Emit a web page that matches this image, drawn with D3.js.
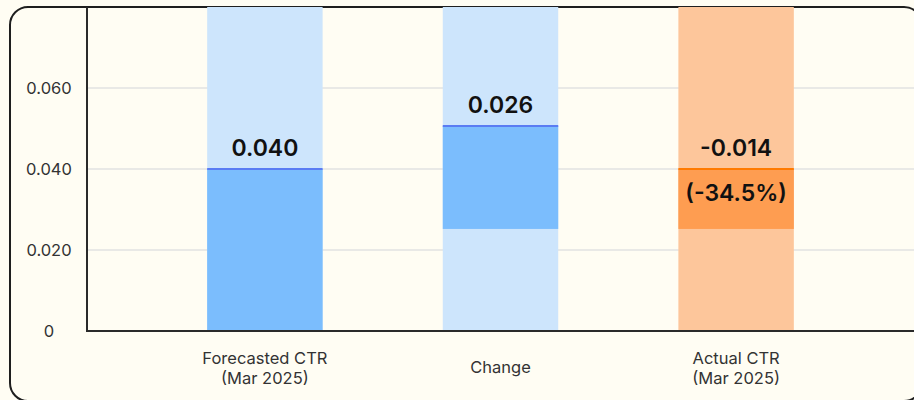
<!DOCTYPE html>
<html><head><meta charset="utf-8">
<script src="https://cdn.jsdelivr.net/npm/d3@7"></script>
<style>
html,body{margin:0;padding:0;background:#fffdf3;}
svg{display:block;font-family:Inter, "Noto Sans", sans-serif;}
</style></head>
<body>
<svg id="chart" width="914" height="400"></svg>
<script>
const categories = ["Forecasted CTR\n(Mar 2025)", "Change", "Actual CTR\n(Mar 2025)"];
const barBase = [0, 0.0252, 0.0252];
const barTop = [0.040, 0.0506, 0.040];
const valueLabels = ["0.040", "0.026", "-0.014"];
const subLabels = ["", "", "(-34.5%)"];
const kinds = ["blue", "blue", "orange"];
const yTicks = [0, 0.02, 0.04, 0.06];
const yTickLabels = ["0", "0.020", "0.040", "0.060"];
const yMax = 0.08;

const palette = {
  blue: {bg: "#cde5fc", bar: "#7bbdfd", line: "#5a7cf3"},
  orange: {bg: "#fdc69b", bar: "#fe9d51", line: "#ff7a00"}
};

const svg = d3.select("#chart");
const mLeft = 87, mRight = 914, mTop = 7, mBottom = 331;

svg.append("rect").attr("x", 10).attr("y", 7).attr("width", 912).attr("height", 394)
  .attr("rx", 18).attr("fill", "#fffdf3").attr("stroke", "#1e1e1e").attr("stroke-width", 2);

const x = d3.scaleBand().domain(categories).range([mLeft, mRight]).paddingInner(0.51).paddingOuter(0.51);
const y = d3.scaleLinear().domain([0, yMax]).range([mBottom, mTop]);

// grid
svg.append("g").selectAll("line").data(yTicks.filter(d => d > 0)).join("line")
  .attr("x1", mLeft).attr("x2", mRight).attr("y1", d => y(d)).attr("y2", d => y(d))
  .attr("stroke", "#e2e2e2").attr("stroke-width", 1.5);

// background columns
svg.append("g").selectAll("rect").data(categories).join("rect")
  .attr("x", d => x(d)).attr("width", x.bandwidth())
  .attr("y", y(yMax)).attr("height", y(0) - y(yMax))
  .attr("fill", (d, i) => palette[kinds[i]].bg);

// bars
svg.append("g").selectAll("rect").data(categories).join("rect")
  .attr("x", d => x(d)).attr("width", x.bandwidth())
  .attr("y", (d, i) => y(barTop[i])).attr("height", (d, i) => y(barBase[i]) - y(barTop[i]))
  .attr("fill", (d, i) => palette[kinds[i]].bar);

// top lines
svg.append("g").selectAll("line").data(categories).join("line")
  .attr("x1", d => x(d)).attr("x2", d => x(d) + x.bandwidth())
  .attr("y1", (d, i) => y(barTop[i])).attr("y2", (d, i) => y(barTop[i]))
  .attr("stroke", (d, i) => palette[kinds[i]].line).attr("stroke-width", 2);

// value labels
svg.append("g").selectAll("text").data(categories).join("text")
  .attr("x", d => x(d) + x.bandwidth() / 2)
  .attr("y", (d, i) => y(barTop[i]) - 13)
  .attr("text-anchor", "middle").attr("font-size", 23).attr("font-weight", 600)
  .attr("fill", "#111").text((d, i) => valueLabels[i]);

svg.append("g").selectAll("text").data(categories).join("text")
  .attr("x", d => x(d) + x.bandwidth() / 2)
  .attr("y", (d, i) => y(barTop[i]) + 32)
  .attr("text-anchor", "middle").attr("font-size", 23).attr("font-weight", 600)
  .attr("fill", "#111").text((d, i) => subLabels[i]);

// axes
const yAxis = d3.axisLeft(y).tickValues(yTicks).tickFormat((d, i) => yTickLabels[i]).tickSize(0);
const gy = svg.append("g").attr("transform", `translate(${mLeft},0)`).call(yAxis);
gy.select(".domain").remove();
gy.selectAll("text").attr("x", -38).attr("text-anchor", "middle")
  .attr("font-size", 16.5).attr("fill", "#333").style("font-family", "Inter, sans-serif");

const xAxis = d3.axisBottom(x).tickSize(0).tickFormat("");
const gx = svg.append("g").attr("transform", `translate(0,${mBottom})`).call(xAxis);
gx.select(".domain").remove();
gx.selectAll(".tick").each(function(d) {
  const lines = d.split("\n");
  const t = d3.select(this).append("text").attr("text-anchor", "middle")
    .attr("font-size", 16.5).attr("fill", "#333").style("font-family", "Inter, sans-serif");
  const start = lines.length === 1 ? 42 : 33;
  lines.forEach((l, k) => t.append("tspan").attr("x", 0).attr("y", start + k * 20).text(l));
});

svg.append("line").attr("x1", mLeft).attr("x2", mLeft).attr("y1", mTop).attr("y2", mBottom + 1)
  .attr("stroke", "#2a2a2a").attr("stroke-width", 2);
svg.append("line").attr("x1", mLeft - 1).attr("x2", mRight).attr("y1", mBottom).attr("y2", mBottom)
  .attr("stroke", "#2a2a2a").attr("stroke-width", 2);
</script>
</body></html>
